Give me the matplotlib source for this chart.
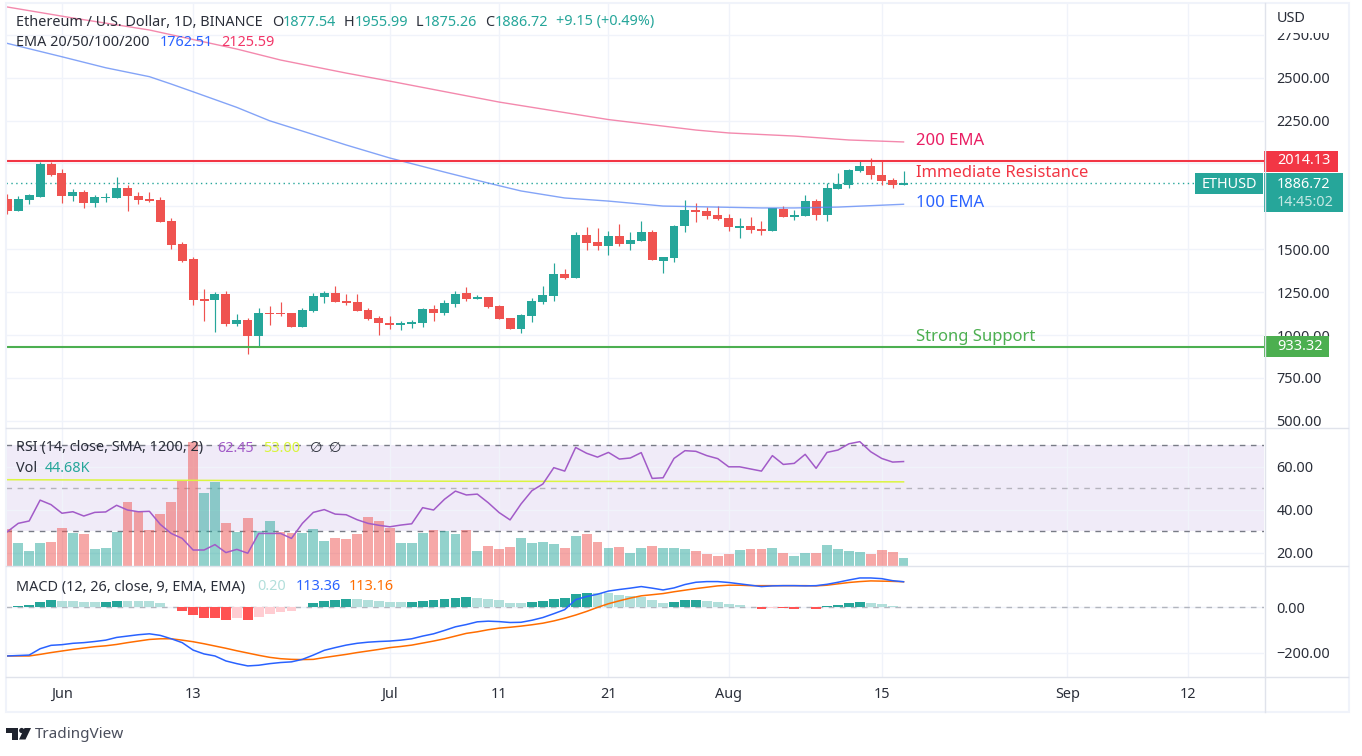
import matplotlib
matplotlib.use('Agg')
import matplotlib.pyplot as plt
from matplotlib.patches import Rectangle, Polygon, Circle

plt.rcParams['font.family'] = ['Noto Sans', 'DejaVu Sans']

# daily candles, k = days since 27 May
opens = [1793, 1723, 1787, 1805, 1997, 1944, 1810, 1834, 1770, 1799,
         1799, 1857, 1810, 1793, 1787, 1665, 1531, 1443, 1210, 1204,
         1239, 1065, 1088, 995, 1129, 1129, 1129, 1047, 1140, 1222,
         1245, 1198, 1193, 1146, 1099, 1070, 1059, 1065, 1070, 1152,
         1129, 1181, 1245, 1210, 1222, 1170, 1099, 1035, 1111, 1193,
         1228, 1356, 1333, 1583, 1542, 1519, 1577, 1531, 1548, 1601,
         1432, 1449, 1636, 1729, 1723, 1700, 1682, 1624, 1636, 1618,
         1606, 1735, 1688, 1694, 1781, 1700, 1851, 1874, 1956, 1985,
         1933, 1904, 1877.54]
closes = [1723, 1793, 1816, 1997, 1933, 1810, 1834, 1770, 1805, 1805,
          1857, 1810, 1787, 1781, 1659, 1525, 1432, 1204, 1198, 1239,
          1065, 1088, 995, 1129, 1123, 1123, 1047, 1146, 1228, 1245,
          1193, 1187, 1140, 1094, 1070, 1059, 1070, 1076, 1152, 1129,
          1187, 1239, 1210, 1222, 1164, 1094, 1035, 1117, 1198, 1233,
          1356, 1333, 1583, 1537, 1519, 1577, 1531, 1554, 1601, 1437,
          1455, 1636, 1729, 1717, 1694, 1676, 1630, 1636, 1612, 1606,
          1740, 1688, 1700, 1781, 1700, 1857, 1880, 1962, 1985, 1933,
          1898, 1874, 1886.72]
highs = [1822, 1811, 1822, 2009, 2009, 1968, 1851, 1845, 1816, 1828,
         1921, 1874, 1834, 1834, 1805, 1682, 1542, 1455, 1268, 1251,
         1257, 1123, 1099, 1158, 1169, 1193, 1129, 1158, 1245, 1257,
         1286, 1239, 1239, 1158, 1111, 1111, 1082, 1088, 1158, 1175,
         1204, 1257, 1280, 1233, 1222, 1175, 1099, 1123, 1216, 1286,
         1420, 1385, 1601, 1630, 1624, 1606, 1647, 1601, 1665, 1612,
         1455, 1641, 1787, 1770, 1746, 1752, 1706, 1682, 1688, 1665,
         1740, 1752, 1729, 1816, 1793, 1886, 1944, 1968, 2020, 2032,
         2014, 1915, 1955.99]
lows = [1706, 1723, 1764, 1805, 1927, 1770, 1781, 1740, 1746, 1775,
        1799, 1723, 1764, 1775, 1659, 1502, 1426, 1175, 1082, 1018,
        1053, 1053, 890, 936, 1059, 1111, 1047, 1047, 1134, 1187,
        1193, 1175, 1140, 1088, 1000, 1035, 1029, 1041, 1047, 1082,
        1117, 1164, 1198, 1210, 1158, 1094, 1035, 1012, 1076, 1181,
        1198, 1327, 1333, 1496, 1496, 1467, 1519, 1496, 1548, 1437,
        1362, 1426, 1601, 1659, 1676, 1671, 1606, 1566, 1595, 1583,
        1606, 1688, 1671, 1694, 1671, 1665, 1851, 1857, 1950, 1909,
        1874, 1857, 1875.26]

ema200_days = [0, 6, 13, 21, 25, 31, 35, 45, 55, 60, 63, 66, 72, 77, 82]
ema200_vals = [2912, 2848, 2778, 2667, 2603, 2527, 2480, 2358, 2256, 2218, 2195, 2178,
               2160, 2137, 2125.59]
ema100_days = [0, 5, 9, 13, 15, 17, 21, 24, 27, 31, 35, 40, 44, 47, 51, 55, 60, 69, 72, 76, 82]
ema100_vals = [2700, 2622, 2558, 2506, 2463, 2418, 2327, 2249, 2189, 2108, 2032, 1950,
               1886, 1840, 1799, 1781, 1752, 1741, 1741, 1746, 1762.51]

rsi = [29.8, 33.7, 34.8, 44.5, 42.4, 38.4, 39.1, 37.1, 38.8, 39.0,
       42.1, 39.9, 39.1, 39.3, 33.2, 29.0, 26.7, 21.3, 21.3, 23.8,
       20.1, 21.6, 19.8, 29.0, 29.0, 29.0, 26.7, 33.7, 38.8, 40.1,
       38.0, 37.7, 35.4, 33.7, 32.8, 32.1, 32.9, 33.5, 41.0, 39.9,
       44.9, 48.7, 46.9, 47.3, 43.3, 38.7, 35.3, 42.7, 48.9, 52.0,
       59.6, 58.0, 69.0, 66.3, 64.5, 66.7, 63.6, 64.1, 66.6, 54.6,
       54.9, 63.9, 67.5, 67.2, 65.2, 63.8, 60.0, 60.0, 59.0, 58.0,
       65.2, 61.1, 61.6, 65.8, 59.3, 66.7, 67.8, 70.7, 71.7, 67.0,
       63.9, 62.2, 62.45]
rsi_sma_days = [0, 40, 82]
rsi_sma_vals = [54.0, 53.3, 53.0]

volume = [207, 128, 84, 128, 134, 212, 184, 179, 95, 101,
          190, 358, 307, 201, 290, 358, 475, 693, 408, 469,
          240, 190, 268, 196, 251, 190, 184, 184, 207, 140,
          156, 151, 179, 274, 251, 212, 128, 128, 184, 201,
          196, 179, 201, 84, 112, 95, 106, 156, 128, 134,
          123, 101, 168, 179, 134, 101, 106, 73, 101, 112,
          101, 101, 95, 84, 67, 56, 67, 89, 95, 95,
          101, 73, 56, 73, 73, 117, 95, 84, 78, 67,
          89, 78, 44.68]
volume_dirs = ("rgggrrgrgg" "grrrrrrrgg" "rgrggrrggg" "rrrrrrgggr" "ggrgrrrggg"
               "grgrrgrggr" "gggrrrrgrr" "grggrggggr" "rrg")

macd_hist = [2, 7, 12, 25, 34, 29, 29, 25, 25, 25,
             29, 29, 29, 29, 20, 1, -15, -32, -45, -45,
             -54, -45, -54, -41, -28, -19, -15, 1, 20, 29,
             34, 38, 38, 34, 29, 25, 25, 25, 29, 34,
             38, 42, 47, 42, 38, 34, 20, 20, 25, 29,
             38, 42, 60, 64, 64, 64, 56, 51, 47, 34,
             20, 25, 34, 34, 29, 25, 16, 12, 3, -6,
             -3, -3, -6, 3, -6, 7, 12, 20, 25, 20,
             16, 7, 0.20]
macd_hist_kinds = ("GGGGGggggG" "GgggggRRRR" "RrRrrrrGGG" "GGgggggGGG" "GGGgggggGG"
                   "GGGGgggggg" "gGGGgggggR" "rRRGRGGGGg" "ggg")
macd_line = [-215, -213, -211, -183, -168, -165, -159, -156, -151, -145,
             -133, -127, -121, -117, -124, -139, -156, -189, -206, -215,
             -237, -249, -259, -256, -249, -244, -241, -230, -211, -190,
             -178, -167, -159, -154, -151, -149, -145, -139, -127, -117,
             -102, -86, -76, -64, -61, -63, -67, -66, -57, -45,
             -28, -10, 34, 48, 58, 72, 79, 85, 92, 85,
             77, 86, 101, 111, 114, 114, 110, 104, 98, 92,
             95, 96, 96, 95, 96, 102, 111, 121, 130, 130,
             127, 118, 113.36]
macd_signal = [-215, -215, -215, -208, -200, -193, -186, -180, -174, -170,
               -164, -156, -149, -142, -139, -139, -145, -152, -161, -171,
               -181, -192, -202, -212, -221, -227, -230, -231, -230, -222,
               -215, -208, -200, -193, -186, -178, -173, -167, -158, -149,
               -139, -127, -115, -108, -99, -92, -88, -83, -77, -70,
               -60, -48, -34, -18, 0, 16, 29, 41, 51, 56,
               61, 69, 76, 83, 89, 95, 98, 98, 96, 96,
               96, 96, 96, 96, 95, 98, 104, 110, 114, 117,
               116, 115, 113.16]

resistance = 2014.13
support = 933.32
last_price = 1886.72

price_ticks = [500, 750, 1000, 1250, 1500, 1750, 2000, 2250, 2500, 2750]
price_labels = [500, 750, 1000, 1250, 1500, None, None, 2250, 2500, 2750]
rsi_ticks = [20, 40, 60]
macd_ticks = [-200, 0]
date_ticks = [5, 17, 35, 45, 55, 66, 80, 97, 108]
date_labels = ['Jun', '13', 'Jul', '11', '21', 'Aug', '15', 'Sep', '12']

UP = '#26a69a'
DOWN = '#ef5350'
GRID = '#f0f3fa'
TEXT = '#2a2e39'
FS = 10.4
W, H = 1362, 756
RSI_MIN, RSI_MAX = 13.86, 78.05
VOL_MAX = 771
days = list(range(len(closes)))


def panel(top, bottom):
    return fig.add_axes([6 / W, 1 - bottom / H, 1258 / W, (bottom - top) / H])


def setup(ax, ticks, labels):
    ax.set_xlim(-0.12, 114.98)
    for s in ax.spines.values():
        s.set_visible(False)
    ax.set_xticks(date_ticks)
    ax.set_xticklabels([])
    ax.yaxis.tick_right()
    ax.set_yticks(ticks)
    ax.set_yticklabels(labels)
    ax.tick_params(length=0, labelsize=FS, labelcolor=TEXT, pad=9)
    ax.grid(True, color=GRID, lw=1)
    ax.set_axisbelow(True)


fig = plt.figure(figsize=(W / 100, H / 100), dpi=100)

# price pane
ax = panel(4, 428)
setup(ax, price_ticks, ['' if v is None else f'{v:.2f}' for v in price_labels])
ax.set_ylim(458.6, 2929.5)
for i in days:
    c = UP if closes[i] >= opens[i] else DOWN
    ax.vlines(i, lows[i], highs[i], color=c, lw=0.85, zorder=2)
    ax.bar(i, abs(closes[i] - opens[i]), bottom=min(opens[i], closes[i]), width=0.82,
           color=c, lw=0, zorder=3)
ax.plot(ema200_days, ema200_vals, color='#f06292', lw=1, alpha=0.75, zorder=4)
ax.plot(ema100_days, ema100_vals, color='#5b86f5', lw=1, alpha=0.75, zorder=4)
ax.axhline(resistance, color='#f23645', lw=1.5, zorder=5)
ax.axhline(support, color='#4caf50', lw=1.5, zorder=5)
ax.axhline(last_price, color=UP, lw=1, ls=(0, (1, 2.5)), zorder=1)
ax.text(83.1, 2131, '200 EMA', color='#e91e63', fontsize=12, va='center')
ax.text(83.1, 1944, 'Immediate Resistance', color='#f23645', fontsize=12, va='center')
ax.text(83.1, 1769, '100 EMA', color='#2962ff', fontsize=12, va='center')
ax.text(83.1, 989, 'Strong Support', color='#4caf50', fontsize=12, va='center')

# RSI with volume on the same pane, volume scaled into the pane height
ax2 = panel(428, 566)
setup(ax2, rsi_ticks, [f'{v:.2f}' for v in rsi_ticks])
ax2.set_ylim(RSI_MIN, RSI_MAX)
ax2.axhspan(30, 70, color='#f0ebf8', lw=0, zorder=0)
ax2.axhline(70, color='#787b86', lw=1, ls=(0, (4, 4)), zorder=1)
ax2.axhline(50, color='#b5b3bd', lw=1, ls=(0, (4, 4)), zorder=1)
ax2.axhline(30, color='#787b86', lw=1, ls=(0, (4, 4)), zorder=1)
vol_colors = [UP if d == 'g' else DOWN for d in volume_dirs]
vol_heights = [v / VOL_MAX * (RSI_MAX - RSI_MIN) for v in volume]
ax2.bar(days, vol_heights, bottom=RSI_MIN, width=0.9, color=vol_colors, alpha=0.5, lw=0, zorder=2)
ax2.plot(rsi_sma_days, rsi_sma_vals, color='#dcf53f', lw=1.1, zorder=3)
ax2.plot(days, rsi, color='#a25bc8', lw=1.1, zorder=4)

# MACD pane
ax3 = panel(567, 677)
setup(ax3, macd_ticks, ['\u2212200.00', '0.00'])
ax3.set_ylim(-308, 178.5)
ax3.axhline(0, color='#b2b5be', lw=1, ls=(0, (4, 4)), zorder=1)
kind_colors = {'G': UP, 'g': '#b2dfdb', 'R': '#ff5252', 'r': '#ffcdd2'}
ax3.bar(days, macd_hist, width=0.9, color=[kind_colors[k] for k in macd_hist_kinds], lw=0, zorder=2)
ax3.plot(days, macd_line, color='#2962ff', lw=1.1, zorder=4)
ax3.plot(days, macd_signal, color='#ff6d00', lw=1.1, zorder=3)
ax3.set_xticklabels(date_labels)
ax3.tick_params(axis='x', pad=7, labelsize=FS)
for t in ax3.get_xticklabels():
    if t.get_text().isalpha():
        t.set_fontweight('bold')

# chrome, tags and legend text in pixel coordinates
over = fig.add_axes([0, 0, 1, 1], zorder=10)
over.set_xlim(0, W)
over.set_ylim(H, 0)
over.axis('off')
over.patch.set_alpha(0)


def box(x0, y0, x1, y1, color):
    over.add_patch(Rectangle((x0, y0), x1 - x0, y1 - y0, fc=color, ec='none'))


def put(x, y, s, color=TEXT, size=FS, **kw):
    over.text(x, y, s, color=color, fontsize=size, va='center', ha='left', **kw)


box(1265, 4, 1347, 33, 'white')
over.add_patch(Rectangle((5.5, 3), 1343, 709, fc='none', ec='#f0f3fa', lw=1.5))
over.plot([1264.5, 1264.5], [3, 712], color='#e0e3eb', lw=1)
for y in [427.5, 566, 677]:
    over.plot([6, 1348], [y, y], color='#e0e3eb', lw=1)

box(1264, 151, 1338, 171.5, '#f23645')
put(1277, 161, '2014.13', 'white', weight='bold')
box(1195, 173, 1263, 194, UP)
put(1202, 184, 'ETHUSD', 'white')
box(1264, 173, 1343, 212, UP)
put(1277, 184, '1886.72', 'white')
put(1277, 202, '14:45:02', '#c5e8e4')
box(1264, 336, 1329, 356.5, '#4caf50')
put(1277, 346.5, '933.32', 'white')

put(1277, 18, 'USD')
put(16, 22, 'Ethereum / U.S. Dollar, 1D, BINANCE')
for x, s in [(272, 'O'), (344, 'H'), (416, 'L'), (485, 'C')]:
    put(x, 22, s)
for x, s in [(283, '1877.54'), (355, '1955.99'), (424, '1875.26'), (495, '1886.72'),
             (556, '+9.15 (+0.49%)')]:
    put(x, 22, s, UP)
put(16, 43, 'EMA 20/50/100/200')
put(160, 43, '1762.51', '#2962ff')
put(221, 43, '2125.59', '#f23668')
put(16, 448, 'RSI (14, close, SMA, 1200, 2)')
put(217, 448, '62.45', '#a25bc8')
put(263, 448, '53.00', '#d9f53a')
put(310, 448, '\u2205')
put(329, 448, '\u2205')
put(16, 469, 'Vol')
put(45, 469, '44.68K', UP)
put(16, 587, 'MACD (12, 26, close, 9, EMA, EMA)')
put(257, 587, '0.20', '#b2dfdb')
put(296, 587, '113.36', '#2962ff')
put(349, 587, '113.16', '#ff6d00')

# logo
logo = '#1e222d'
over.add_patch(Polygon([(6, 728), (17.5, 728), (17.5, 739.5), (12, 739.5), (12, 733), (6, 733)],
                       fc=logo, ec='none'))
over.add_patch(Circle((21.7, 730.5), 2.6, fc=logo, ec='none'))
over.add_patch(Polygon([(24.5, 728), (31, 728), (25.5, 739.5), (19, 739.5)], fc=logo, ec='none'))
put(35, 734.5, 'TradingView', '#4a4e5c', size=11)

fig.savefig('out.png', dpi=100)
